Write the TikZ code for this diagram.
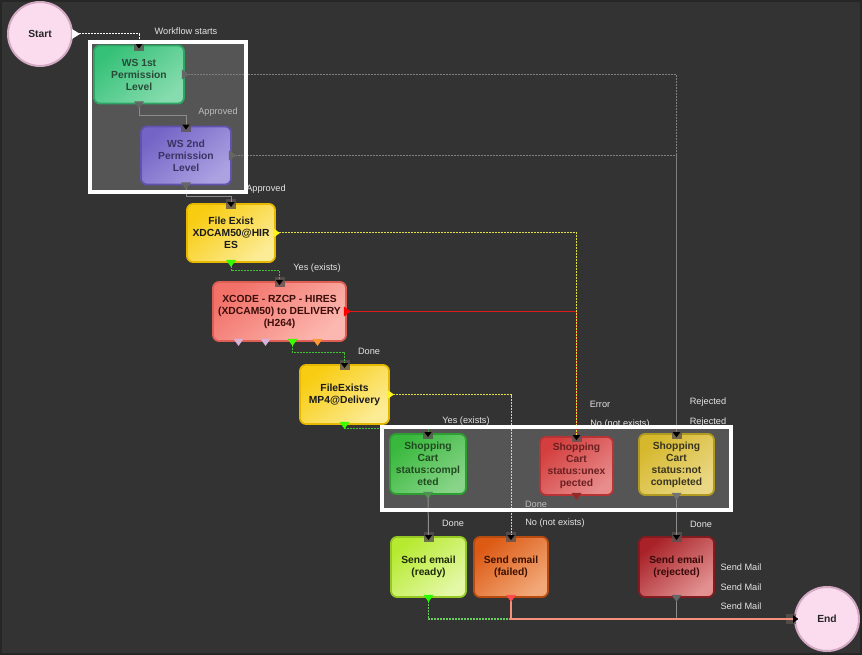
\documentclass[tikz,border=0pt]{standalone}
\usepackage{fontspec}
\setmainfont{Liberation Sans}
\usetikzlibrary{arrows.meta,calc}

\definecolor{bg}{HTML}{333333}
\definecolor{hlfill}{HTML}{555555}
\definecolor{lbl}{HTML}{E4E4E4}
\definecolor{lblgray}{HTML}{BCBCBC}
\definecolor{cgray}{HTML}{8C8C8C}
\definecolor{cgrayd}{HTML}{808080}
\definecolor{cyel}{HTML}{E0E040}
\definecolor{linered}{HTML}{E01C1C}
\definecolor{cgreen}{HTML}{44C034}
\definecolor{linesalmon}{HTML}{F4907C}
\definecolor{portc}{HTML}{5A5250}
% node colours
\definecolor{wsAb}{HTML}{2FA565}\definecolor{wsAt}{HTML}{36C178}\definecolor{wsAl}{HTML}{86DCAE}\definecolor{wsAx}{HTML}{2A4A38}
\definecolor{wsBb}{HTML}{6152B0}\definecolor{wsBt}{HTML}{7464C6}\definecolor{wsBl}{HTML}{ACA2E2}\definecolor{wsBx}{HTML}{3A3464}
\definecolor{yeb}{HTML}{E6B800}\definecolor{yet}{HTML}{F8CC10}\definecolor{yel}{HTML}{FCEC96}\definecolor{yex}{HTML}{1A1A1A}
\definecolor{xcb}{HTML}{DC5E55}\definecolor{xct}{HTML}{F2726A}\definecolor{xcl}{HTML}{FCB8B0}\definecolor{xcx}{HTML}{3C0E0A}
\definecolor{sgb}{HTML}{2E9E32}\definecolor{sgt}{HTML}{38B83C}\definecolor{sgl}{HTML}{88D488}\definecolor{sgx}{HTML}{214A21}
\definecolor{srb}{HTML}{B83434}\definecolor{srt}{HTML}{D43E3E}\definecolor{srl}{HTML}{E88C8C}\definecolor{srx}{HTML}{6A2020}
\definecolor{syb}{HTML}{B09A22}\definecolor{syt}{HTML}{D6B82C}\definecolor{syl}{HTML}{EAD886}\definecolor{syx}{HTML}{3A3520}
\definecolor{lmb}{HTML}{96C824}\definecolor{lmt}{HTML}{B6EA30}\definecolor{lml}{HTML}{E4F8A8}\definecolor{lmx}{HTML}{1E2A08}
\definecolor{orb}{HTML}{B84C10}\definecolor{ort}{HTML}{DC5A14}\definecolor{orl}{HTML}{F2A878}\definecolor{orx}{HTML}{3A1000}
\definecolor{drb}{HTML}{821C20}\definecolor{drt}{HTML}{A82228}\definecolor{drl}{HTML}{E29090}\definecolor{drx}{HTML}{3A0A0A}
\definecolor{pkf}{HTML}{FADCEE}\definecolor{pkd}{HTML}{D2A8C2}

\newcommand\mkdown[2]{\fill[#2] ([xshift=-5pt,yshift=3pt]#1) -- ([xshift=5pt,yshift=3pt]#1) -- ([yshift=-4pt]#1) -- cycle;}
\newcommand\mkright[2]{\fill[#2] ([xshift=-3pt,yshift=5pt]#1) -- ([xshift=4pt]#1) -- ([xshift=-3pt,yshift=-5pt]#1) -- cycle;}
\newcommand\inport[1]{\fill[portc, opacity=.8] ([xshift=-5pt,yshift=4pt]#1) rectangle ([xshift=5pt,yshift=-6pt]#1);}

\tikzset{
  wf/.style n args={4}{draw=#1, top color=#2, bottom color=#3, shading angle=40, text=#4,
     rounded corners=6pt, line width=1.8pt, align=center, inner sep=1pt,
     font=\fontsize{10.3}{12}\selectfont\bfseries},
  term/.style={circle, draw=pkd, fill=pkf, line width=2pt, minimum size=64pt, inner sep=0pt,
     font=\fontsize{10.3}{12}\selectfont\bfseries, text=black!85},
  lab/.style={font=\fontsize{9.2}{10}\selectfont, text=lbl, inner sep=0pt},
  conn/.style={line width=1pt, -{Triangle[length=5pt,width=7pt,color=black]}, shorten >=-4pt},
  dsh/.style={dash pattern=on 2pt off 1pt},
}

\begin{document}
\begin{tikzpicture}[x=1pt,y=-1pt]
\useasboundingbox (0,0) rectangle (862,655);
\fill[bg] (0,0) rectangle (862,655);
\draw[black!85, line width=2pt] (1,1) rectangle (861,654);

% highlight areas
\fill[hlfill] (90,42) rectangle (246,192);
\fill[hlfill] (382,427) rectangle (731,510);

% terminals
\node[term] (start) at (40,34) {Start};
\node[term] (end) at (827,619) {End};

% workflow nodes
\node[wf={wsAb}{wsAt}{wsAl}{wsAx}, minimum width=90pt, minimum height=58pt] (ws1) at (139,74.5) {WS 1st\\Permission\\Level};
\node[wf={wsBb}{wsBt}{wsBl}{wsBx}, minimum width=90pt, minimum height=58pt] (ws2) at (186,155.5) {WS 2nd\\Permission\\Level};
\node[wf={yeb}{yet}{yel}{yex}, minimum width=88pt, minimum height=58pt] (fe1) at (231,233) {File Exist\\XDCAM50@HIR\\ES};
\node[wf={xcb}{xct}{xcl}{xcx}, minimum width=133pt, minimum height=59pt] (xc) at (279.5,311.5) {XCODE - RZCP - HIRES\\(XDCAM50) to DELIVERY\\(H264)};
\node[wf={yeb}{yet}{yel}{yex}, minimum width=89pt, minimum height=59pt] (fe2) at (344.5,394.5) {FileExists\\MP4@Delivery};
\node[wf={sgb}{sgt}{sgl}{sgx}, minimum width=76pt, minimum height=60pt] (scc) at (428,464) {Shopping\\Cart\\status:compl\\eted};
\node[wf={srb}{srt}{srl}{srx}, minimum width=73pt, minimum height=58pt] (scu) at (576.5,466) {Shopping\\Cart\\status:unex\\pected};
\node[wf={syb}{syt}{syl}{syx}, minimum width=75pt, minimum height=61pt] (scn) at (676.5,464.5) {Shopping\\Cart\\status:not\\completed};
\node[wf={lmb}{lmt}{lml}{lmx}, minimum width=75pt, minimum height=60pt] (ser) at (428.5,567) {Send email\\(ready)};
\node[wf={orb}{ort}{orl}{orx}, minimum width=74pt, minimum height=60pt] (sef) at (511,567) {Send email\\(failed)};
\node[wf={drb}{drt}{drl}{drx}, minimum width=75pt, minimum height=60pt] (serj) at (676.5,567) {Send email\\(rejected)};

% extra output points of the XCODE node
\coordinate (xo1) at ([xshift=-41pt]xc.south);
\coordinate (xo2) at ([xshift=-14pt]xc.south);
\coordinate (xo3) at ([xshift=13pt]xc.south);
\coordinate (xo4) at ([xshift=38pt]xc.south);

% input ports
\inport{ws1.north}\inport{ws2.north}\inport{fe1.north}\inport{xc.north}\inport{fe2.north}
\inport{scc.north}\inport{scu.north}\inport{scn.north}\inport{ser.north}\inport{sef.north}\inport{serj.north}
\fill[portc, opacity=.8] ([xshift=-8pt,yshift=5pt]end.west) rectangle ([xshift=2pt,yshift=-5pt]end.west);

% labels (drawn before highlight borders)
\node[lab] (l1) at (186,31) {Workflow starts};
\node[lab, text=lblgray] (l2) at (218,112) {Approved};
\node[lab] (l3) at (266,189) {Approved};
\node[lab] (l4) at (317,268) {Yes (exists)};
\node[lab] (l5) at (369,351) {Done};
\node[lab] (l6) at (466,421) {Yes (exists)};
\node[lab] (l7) at (600,404) {Error};
\node[lab] (l8) at (620,424) {No (not exists)};
\node[lab] (l9) at (708,402) {Rejected};
\node[lab] (l10) at (708,422) {Rejected};
\node[lab, text=lblgray] (l11) at (536,504) {Done};
\node[lab] (l12) at (453,523) {Done};
\node[lab] (l13) at (555,523) {No (not exists)};
\node[lab] (l14) at (701,524) {Done};
\node[lab] (l15) at (741,567) {Send Mail};
\node[lab] (l16) at (741,587) {Send Mail};
\node[lab] (l17) at (741,606) {Send Mail};

% connectors
\draw[conn, white, dsh] (start.east) -| (ws1.north);
\draw[conn, cgray] (ws1.south) -- ++(0,11) -| (ws2.north);
\draw[conn, cgray] (ws2.south) -- ++(0,11) -| (fe1.north);
\draw[conn, cgrayd, line width=.7pt, dsh] (ws1.east) -| (scn.north);
\draw[conn, cgrayd, line width=.7pt, dsh] (ws2.east) -| (scn.north);
\draw[conn, draw=linered, line width=1.2pt] (xc.east) -| (scu.north);
\draw[conn, cyel, dsh] (fe1.east) -| (scu.north);
\draw[conn, cgreen, dsh] (fe1.south) -- ++(0,8) -| (xc.north);
\draw[conn, cgreen, dsh] (xo3) -- ++(0,11) -| (fe2.north);
\draw[conn, cgreen, dsh] (fe2.south) -- ++(0,4) -| (scc.north);
\draw[conn, cyel, dsh] (fe2.east) -| (sef.north);
\draw[conn, cgray] (scc.south) -- (ser.north);
\draw[conn, cgray] (scn.south) -- (serj.north);
\draw[conn, cgray] (serj.south) |- (end.west);
\draw[conn, draw=cgreen!80!white, dsh, line width=1.2pt] (ser.south) |- (end.west);
\draw[conn, draw=linesalmon, line width=1.3pt] (sef.south) |- (end.west);

% output markers
\fill[white] ([xshift=-1pt,yshift=5pt]start.east) -- ([xshift=7pt]start.east) -- ([xshift=-1pt,yshift=-5pt]start.east) -- cycle;
\mkdown{ws1.south}{black!60}\mkright{ws1.east}{black!60}
\mkdown{ws2.south}{black!60}\mkright{ws2.east}{black!60}
\mkdown{fe1.south}{green!75!lime}\mkright{fe1.east}{yellow!90!white}
\mkdown{xo1}{violet!30!white}
\mkdown{xo2}{violet!30!white}
\mkdown{xo3}{green!70!lime}
\mkdown{xo4}{orange!80!white}
\mkright{xc.east}{red}
\mkdown{fe2.south}{green!70!lime}\mkright{fe2.east}{yellow!90!white}
\mkdown{scc.south}{sgb!60!gray}
\mkdown{scu.south}{srb!80!black}
\mkdown{scn.south}{black!55}
\mkdown{ser.south}{green!80!lime}
\mkdown{sef.south}{red!70!white}
\mkdown{serj.south}{black!60}

% highlight borders
\draw[white, line width=4pt] (90,42) rectangle (246,192);
\draw[white, line width=4pt] (382,427) rectangle (731,510);
\end{tikzpicture}
\end{document}
